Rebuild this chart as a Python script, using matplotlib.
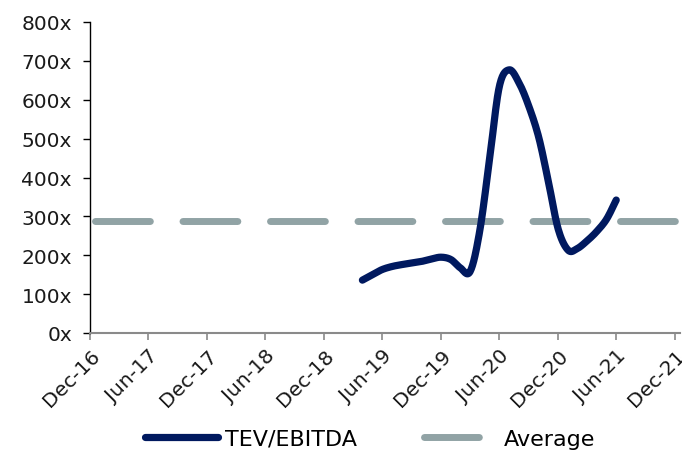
import numpy as np
import pandas as pd
import matplotlib
matplotlib.use('Agg')
import matplotlib.pyplot as plt
import matplotlib.dates as mdates

# monthly TEV/EBITDA readings, Apr-19 .. Jun-21
months = pd.date_range('2019-04-01', periods=27, freq='MS') + pd.offsets.MonthEnd(0)
tev_ebitda = [136, 150, 163, 171, 176, 180, 184, 190, 195, 189, 168, 158,
              262, 448, 633, 677, 643, 584, 504, 391, 267, 213, 217, 237,
              261, 293, 342]

avg_value = 287
avg_dates = pd.to_datetime(['2017-01-16', '2021-12-31'])

tick_dates = pd.date_range('2016-12-01', periods=11, freq='6MS') + pd.offsets.MonthEnd(0)
y_ticks = list(range(0, 801, 100))

navy = '#00195F'
grey = '#91A3A5'


def smooth(x, y, n=16):
    # catmull-rom through the points, the way a "smoothed line" chart draws it
    x = np.asarray(x, float)
    y = np.asarray(y, float)
    px = np.concatenate([[2 * x[0] - x[1]], x, [2 * x[-1] - x[-2]]])
    py = np.concatenate([[2 * y[0] - y[1]], y, [2 * y[-1] - y[-2]]])
    xs, ys = [], []
    t = np.linspace(0, 1, n, endpoint=False)
    for i in range(1, len(px) - 2):
        for p, out in ((px, xs), (py, ys)):
            p0, p1, p2, p3 = p[i - 1], p[i], p[i + 1], p[i + 2]
            out.extend(0.5 * (2 * p1 + (-p0 + p2) * t
                              + (2 * p0 - 5 * p1 + 4 * p2 - p3) * t ** 2
                              + (-p0 + 3 * p1 - 3 * p2 + p3) * t ** 3))
    xs.append(x[-1])
    ys.append(y[-1])
    return np.array(xs), np.array(ys)


plt.rcParams['font.family'] = 'DejaVu Sans'

fig = plt.figure(figsize=(6.82, 4.52), dpi=100)
ax = fig.add_axes([90 / 682, 118 / 452, 590 / 682, 311 / 452])

xnum = mdates.date2num(months)
sx, sy = smooth(xnum, tev_ebitda)
ax.plot(sx, sy, color=navy, lw=5.2, solid_capstyle='round',
        solid_joinstyle='round', label='TEV/EBITDA', zorder=3)
ax.plot(mdates.date2num(avg_dates), [avg_value, avg_value], color=grey, lw=5,
        dashes=(7.9, 4.7), dash_capstyle='round', label='Average', zorder=2)

ax.set_ylim(0, 800)
ax.set_yticks(y_ticks)
ax.set_yticklabels([f'{v}x' for v in y_ticks])
ax.set_xlim(mdates.date2num(pd.Timestamp('2016-12-31')),
            mdates.date2num(pd.Timestamp('2022-01-15')))
ax.set_xticks(mdates.date2num(tick_dates))
ax.set_xticklabels([d.strftime('%b-%y') for d in tick_dates],
                   rotation=45, ha='right', rotation_mode='anchor')

for s in ('top', 'right'):
    ax.spines[s].set_visible(False)
ax.spines['left'].set_color('#000000')
ax.spines['left'].set_linewidth(1)
ax.spines['bottom'].set_color('#8a8a8a')
ax.spines['bottom'].set_linewidth(1.5)

ax.tick_params(axis='y', length=5, width=1, color='#000000',
               labelsize=14.5, labelcolor='#1a1a1a', pad=8)
ax.tick_params(axis='x', length=5, width=1.2, color='#8a8a8a',
               labelsize=14.5, labelcolor='#1a1a1a', pad=4)

ax.legend(loc='center', bbox_to_anchor=(370 / 682, 1 - 440 / 452),
          bbox_transform=fig.transFigure, ncol=2, frameon=False,
          fontsize=16, handlelength=3.3, handletextpad=0.3,
          columnspacing=3.0)

fig.savefig('out.png', dpi=100)
